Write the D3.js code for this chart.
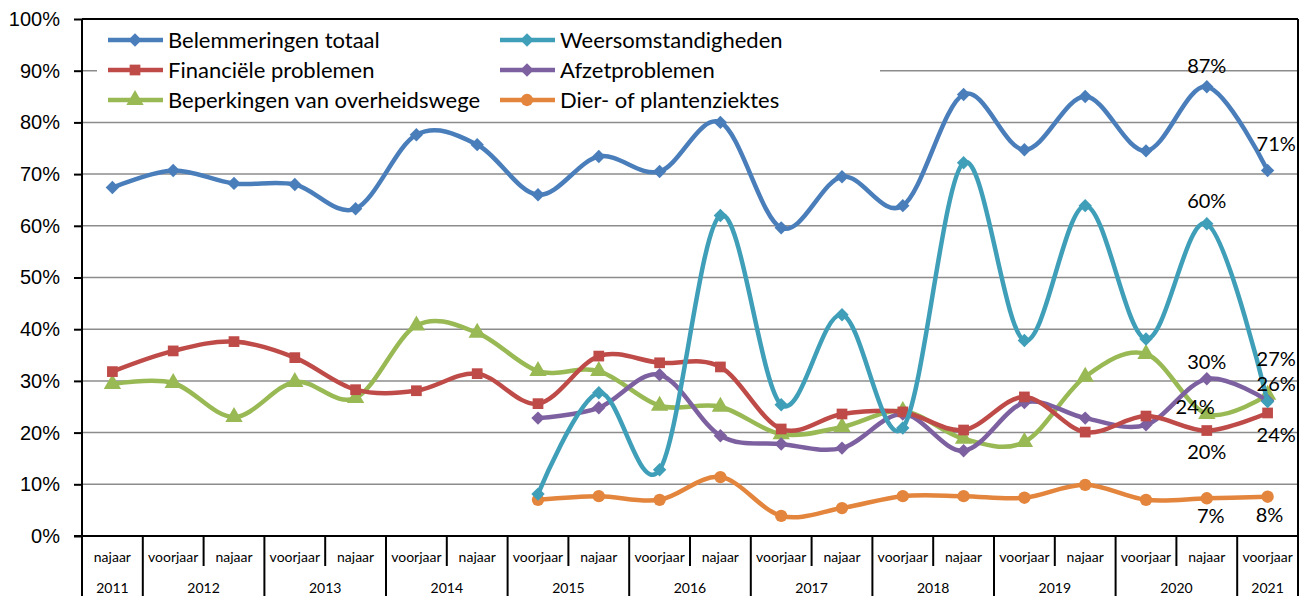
<!DOCTYPE html>
<html>
<head>
<meta charset="utf-8">
<script src="https://cdnjs.cloudflare.com/ajax/libs/d3/7.8.5/d3.min.js"></script>
<style>
  body { margin: 0; background: #fff; }
  text { font-family: Lato, "Open Sans", sans-serif; fill: #000; }
  .yaxis text { font-family: "Liberation Sans", Arial, sans-serif; font-size: 20px; }
</style>
</head>
<body>
<svg id="chart" width="1309" height="596"></svg>
<script>
// categories (half-year survey rounds)
var periods = ["najaar","voorjaar","najaar","voorjaar","najaar","voorjaar","najaar",
  "voorjaar","najaar","voorjaar","najaar","voorjaar","najaar","voorjaar","najaar",
  "voorjaar","najaar","voorjaar","najaar","voorjaar"];
var years = [2011,2012,2012,2013,2013,2014,2014,2015,2015,2016,2016,2017,2017,2018,2018,
  2019,2019,2020,2020,2021];
var yTicks = [0,10,20,30,40,50,60,70,80,90,100];

// series values in %, null = not asked
var belemmeringen = [67.4,70.7,68.2,68.0,63.3,77.6,75.7,66.0,73.4,70.5,80.0,59.6,69.5,63.9,85.4,74.7,85.0,74.5,86.9,70.7];
var weer = [null,null,null,null,null,null,null,8.1,27.7,12.8,62.0,25.4,42.8,20.9,72.2,37.8,63.9,38.1,60.4,26.0];
var financieel = [31.8,35.8,37.6,34.5,28.3,28.1,31.4,25.6,34.8,33.5,32.7,20.7,23.6,24.0,20.5,26.9,20.1,23.2,20.4,23.8];
var afzet = [null,null,null,null,null,null,null,22.8,24.8,31.2,19.4,17.8,17.0,23.6,16.5,25.8,22.8,21.5,30.4,26.2];
var overheid = [29.4,29.6,23.0,29.8,26.7,40.7,39.3,31.9,31.9,25.2,25.0,19.7,21.1,24.2,18.8,18.2,30.8,35.2,23.6,27.3];
var ziektes = [null,null,null,null,null,null,null,7.0,7.7,7.0,11.4,3.9,5.4,7.7,7.7,7.4,9.9,7.0,7.3,7.6];

var series = [
  {name: "Belemmeringen totaal", values: belemmeringen, color: "#4A7EBB", marker: "diamond"},
  {name: "Weersomstandigheden", values: weer, color: "#3F9FB8", marker: "diamond"},
  {name: "Financiële problemen", values: financieel, color: "#BE4B48", marker: "square"},
  {name: "Afzetproblemen", values: afzet, color: "#7D60A0", marker: "diamond"},
  {name: "Beperkingen van overheidswege", values: overheid, color: "#98B954", marker: "triangle"},
  {name: "Dier- of plantenziektes", values: ziektes, color: "#E3853C", marker: "circle"}
];

// data labels: series index, point index, offset
var labels = [
  {s: 0, i: 18, dx: 0, dy: -14, anchor: "middle"},
  {s: 1, i: 18, dx: 0, dy: -16, anchor: "middle"},
  {s: 3, i: 18, dx: 0, dy: -10, anchor: "middle"},
  {s: 4, i: 18, dx: 8, dy: 0, anchor: "end"},
  {s: 2, i: 18, dx: 0, dy: 28, anchor: "middle"},
  {s: 5, i: 18, dx: 4, dy: 25, anchor: "middle"},
  {s: 0, i: 19, dx: -11, dy: -19, anchor: "start"},
  {s: 4, i: 19, dx: -11, dy: -29, anchor: "start"},
  {s: 3, i: 19, dx: -11, dy: -10, anchor: "start"},
  {s: 2, i: 19, dx: -11, dy: 29, anchor: "start"},
  {s: 5, i: 19, dx: 2, dy: 25, anchor: "middle"}
];

var svg = d3.select("#chart"),
    margin = {top: 19, right: 11, bottom: 60, left: 82},
    width = +svg.attr("width") - margin.left - margin.right,
    height = +svg.attr("height") - margin.top - margin.bottom;

var x = d3.scaleBand().domain(d3.range(periods.length)).range([0, width]),
    y = d3.scaleLinear().domain([0, 100]).range([height, 0]);

var g = svg.append("g")
    .attr("transform", "translate(" + margin.left + "," + margin.top + ")");

// gridlines
g.append("g").selectAll("line")
  .data(yTicks.filter(function(d) { return d > 0 && d < 100; }))
  .enter().append("line")
    .attr("x1", 0).attr("x2", width)
    .attr("y1", function(d) { return y(d); })
    .attr("y2", function(d) { return y(d); })
    .attr("stroke", "#8c8c8c").attr("stroke-width", 1.5);

// legend box hides gridlines behind it
var legend = g.append("g").attr("transform", "translate(15,3)");
legend.append("rect").attr("width", 783).attr("height", 90).attr("fill", "#fff");

// plot border top/right
g.append("line").attr("x1", 0).attr("x2", width).attr("y1", 0).attr("y2", 0)
  .attr("stroke", "#000").attr("stroke-width", 2);
g.append("line").attr("x1", width).attr("x2", width).attr("y1", 0).attr("y2", height + margin.bottom)
  .attr("stroke", "#000").attr("stroke-width", 2);

// y axis
var yAxis = g.append("g").attr("class", "yaxis")
  .call(d3.axisLeft(y).tickValues(yTicks).tickSize(8).tickPadding(14)
    .tickFormat(function(d) { return d + "%"; }));
yAxis.select(".domain").remove();
yAxis.selectAll(".tick line").attr("stroke", "#000").attr("stroke-width", 2);
g.append("line").attr("x1", 0).attr("x2", 0).attr("y1", 0).attr("y2", height + margin.bottom)
  .attr("stroke", "#000").attr("stroke-width", 2);

// x axis baseline and category grid
g.append("line").attr("x1", -8).attr("x2", width).attr("y1", height).attr("y2", height)
  .attr("stroke", "#000").attr("stroke-width", 2);

var xa = g.append("g").attr("transform", "translate(0," + height + ")");
d3.range(1, periods.length).forEach(function(i) {
  var major = years[i] !== years[i - 1];
  xa.append("line")
    .attr("x1", x(i)).attr("x2", x(i))
    .attr("y1", 0).attr("y2", major ? margin.bottom : 30)
    .attr("stroke", "#000").attr("stroke-width", 2);
});
xa.selectAll(".period")
  .data(periods)
  .enter().append("text")
    .attr("class", "period")
    .attr("x", function(d, i) { return x(i) + x.bandwidth() / 2; })
    .attr("y", 26)
    .attr("text-anchor", "middle")
    .style("font-size", "14px")
    .text(function(d) { return d; });

var yearGroups = d3.groups(d3.range(years.length), function(i) { return years[i]; });
xa.selectAll(".year")
  .data(yearGroups)
  .enter().append("text")
    .attr("class", "year")
    .attr("x", function(d) {
      var idx = d[1];
      return (x(idx[0]) + x(idx[idx.length - 1]) + x.bandwidth()) / 2;
    })
    .attr("y", 57)
    .attr("text-anchor", "middle")
    .style("font-size", "14px")
    .text(function(d) { return d[0]; });

// markers (excel diamond = square turned 45 degrees)
var symbols = {
  diamond: d3.symbol().type(d3.symbolSquare).size(90),
  square: d3.symbol().type(d3.symbolSquare).size(115),
  triangle: d3.symbol().type(d3.symbolTriangle).size(130),
  circle: d3.symbol().type(d3.symbolCircle).size(120)
};
function markerRot(m) { return m === "diamond" ? " rotate(45)" : ""; }

var line = d3.line()
  .defined(function(d) { return d != null; })
  .x(function(d, i) { return x(i) + x.bandwidth() / 2; })
  .y(function(d) { return y(d); })
  .curve(d3.curveCardinal.tension(0));

// draw in reverse so the first series is on top
series.slice().reverse().forEach(function(s) {
  var sg = g.append("g");
  sg.append("path")
    .datum(s.values)
    .attr("fill", "none")
    .attr("stroke", s.color)
    .attr("stroke-width", 4.5)
    .attr("stroke-linejoin", "round")
    .attr("d", line);
  sg.selectAll(".m")
    .data(s.values.map(function(v, i) { return {v: v, i: i}; }).filter(function(d) { return d.v != null; }))
    .enter().append("path")
      .attr("class", "m")
      .attr("transform", function(d) {
        return "translate(" + (x(d.i) + x.bandwidth() / 2) + "," + y(d.v) + ")" + markerRot(s.marker);
      })
      .attr("d", symbols[s.marker]())
      .attr("fill", s.color);
});

// data labels
g.selectAll(".lbl")
  .data(labels)
  .enter().append("text")
    .attr("class", "lbl")
    .attr("x", function(d) { return x(d.i) + x.bandwidth() / 2 + d.dx; })
    .attr("y", function(d) { return y(series[d.s].values[d.i]) + d.dy; })
    .attr("text-anchor", function(d) { return d.anchor; })
    .style("font-size", "20px")
    .text(function(d) { return Math.round(series[d.s].values[d.i]) + "%"; });

// legend entries
var items = legend.selectAll(".item")
  .data(series)
  .enter().append("g")
    .attr("class", "item")
    .attr("transform", function(d, i) {
      return "translate(" + (i % 2 === 0 ? 11 : 403) + "," + (18 + Math.floor(i / 2) * 30) + ")";
    });
items.append("line")
  .attr("x1", 0).attr("x2", 55).attr("y1", 0).attr("y2", 0)
  .attr("stroke", function(d) { return d.color; })
  .attr("stroke-width", 4.5);
items.append("path")
  .attr("transform", function(d) { return "translate(27,0)" + markerRot(d.marker); })
  .attr("d", function(d) { return symbols[d.marker](); })
  .attr("fill", function(d) { return d.color; });
items.append("text")
  .attr("x", 60).attr("y", 7.5)
  .style("font-size", "22px")
  .text(function(d) { return d.name; });
</script>
</body>
</html>
